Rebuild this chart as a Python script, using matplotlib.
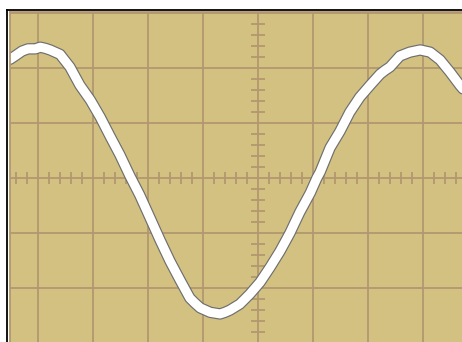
import numpy as np
import matplotlib
matplotlib.use("Agg")
import matplotlib.pyplot as plt
import matplotlib.patheffects as pe
from matplotlib.lines import Line2D

# trace, in divisions (x: time, y: amplitude)
tempo = [-4.51, -4.42, -4.29, -4.18, -4.05, -3.96, -3.87, -3.78, -3.60, -3.42,
         -3.24, -3.05, -2.87, -2.69, -2.51, -2.33, -2.15, -1.96, -1.78, -1.60,
         -1.42, -1.24, -1.15, -1.05, -0.87, -0.69, -0.60, -0.51, -0.33, -0.15,
         0.04, 0.22, 0.40, 0.58, 0.76, 0.95, 1.07, 1.13, 1.31, 1.49,
         1.67, 1.85, 2.04, 2.22, 2.31, 2.40, 2.58, 2.76, 2.95, 3.13,
         3.31, 3.49, 3.67, 3.73]
sinal = [2.16, 2.22, 2.31, 2.35, 2.35, 2.38, 2.36, 2.33, 2.25, 2.02,
         1.69, 1.42, 1.11, 0.76, 0.42, 0.04, -0.31, -0.73, -1.13, -1.51,
         -1.85, -2.18, -2.27, -2.36, -2.44, -2.47, -2.44, -2.40, -2.29, -2.11,
         -1.89, -1.62, -1.33, -1.00, -0.62, -0.27, 0.00, 0.11, 0.55, 0.85,
         1.20, 1.47, 1.69, 1.89, 1.96, 2.02, 2.22, 2.29, 2.33, 2.29,
         2.15, 1.93, 1.69, 1.62]

cor_fundo = '#d2c180'
cor_grade = '#b3976f'

fig = plt.figure(figsize=(4.62, 3.42), dpi=100)
W, H = 462, 342
# axes from x=10px to the right edge, y=12px to the bottom edge
ax = fig.add_axes([10 / W, 0, (W - 10) / W, (H - 12) / H])
ax.set_facecolor(cor_fundo)
ax.set_xlim(-4.51, 3.71)
ax.set_ylim(-2.98, 3.02)

# main grid: one line per division
ax.set_xticks(np.arange(-4, 4, 1))
ax.set_yticks(np.arange(-2, 4, 1))
ax.grid(True, color=cor_grade, linewidth=1.3)
ax.tick_params(length=0, labelbottom=False, labelleft=False)
for lado in ['right', 'bottom']:
    ax.spines[lado].set_visible(False)
for lado in ['left', 'top']:
    ax.spines[lado].set_color(cor_grade)
    ax.spines[lado].set_linewidth(1.3)

# minor ticks on the centre cross, 5 per division
mx = np.round(np.arange(-4.4, 3.8, 0.2), 2)
mx = mx[np.abs(mx - np.round(mx)) > 0.01]
ax.vlines(mx, -0.11, 0.11, color=cor_grade, linewidth=1.3)
my = np.round(np.arange(-2.8, 3.0, 0.2), 2)
my = my[np.abs(my - np.round(my)) > 0.01]
ax.hlines(my, -0.13, 0.13, color=cor_grade, linewidth=1.3)

# the trace: white with a grey rim
ax.plot(tempo, sinal, color='white', linewidth=6.5, solid_capstyle='round',
        solid_joinstyle='round',
        path_effects=[pe.Stroke(linewidth=8.2, foreground='#6e6e6e'), pe.Normal()])

# black outer frame (left and top)
fig.add_artist(Line2D([7.5 / W, 7.5 / W], [0, 1 - 9.5 / H], color='black',
                      linewidth=1.3, transform=fig.transFigure))
fig.add_artist(Line2D([7 / W, 1], [1 - 9.5 / H, 1 - 9.5 / H], color='black',
                      linewidth=1.3, transform=fig.transFigure))

fig.savefig('out.png', dpi=100)
